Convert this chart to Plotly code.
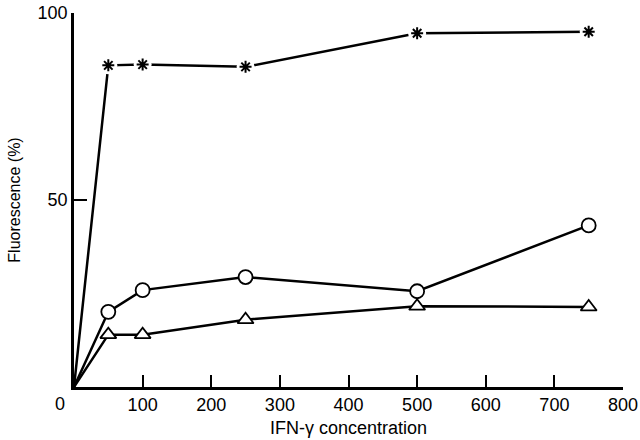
import plotly.graph_objects as go

conc = [0, 50, 100, 250, 500, 750]
star_vals = [0, 86.0, 86.2, 85.6, 94.6, 95.0]
circle_vals = [0, 20.1, 25.9, 29.4, 25.6, 43.2]
triangle_vals = [0, 14.0, 14.0, 18.0, 21.6, 21.4]

x_ticks = [100, 200, 300, 400, 500, 600, 700, 800]
y_ticks = [50, 100]

fig = go.Figure()

line_style = dict(color="black", width=2.5)

# star series: line with white gaps around markers
fig.add_trace(go.Scatter(x=conc, y=star_vals, mode="lines", line=line_style,
                         showlegend=False, hoverinfo="skip"))
fig.add_trace(go.Scatter(x=conc[1:], y=star_vals[1:], mode="markers",
                         marker=dict(symbol="circle", size=18, color="white",
                                     line=dict(width=0)),
                         showlegend=False, hoverinfo="skip"))
fig.add_trace(go.Scatter(x=conc[1:], y=star_vals[1:], mode="markers",
                         marker=dict(symbol="asterisk-open", size=10, color="black",
                                     line=dict(color="black", width=2)),
                         showlegend=False))

fig.add_trace(go.Scatter(x=conc, y=circle_vals, mode="lines", line=line_style,
                         showlegend=False, hoverinfo="skip"))
fig.add_trace(go.Scatter(x=conc[1:], y=circle_vals[1:], mode="markers",
                         marker=dict(symbol="circle", size=14, color="white",
                                     line=dict(color="black", width=1.8)),
                         showlegend=False))

fig.add_trace(go.Scatter(x=conc, y=triangle_vals, mode="lines", line=line_style,
                         showlegend=False, hoverinfo="skip"))
fig.add_trace(go.Scatter(x=conc[1:], y=triangle_vals[1:], mode="markers",
                         marker=dict(symbol="triangle-up", size=14, color="white",
                                     line=dict(color="black", width=1.8)),
                         showlegend=False))

font = dict(family="Liberation Sans, Arial, sans-serif", color="black")

fig.update_layout(
    width=640, height=440,
    margin=dict(l=74, r=17, t=13, b=53),
    plot_bgcolor="white", paper_bgcolor="white",
    font=dict(**font, size=16),
    xaxis=dict(range=[0, 800], tickvals=x_ticks, ticktext=[str(v) for v in x_ticks],
               showline=True, linecolor="black", linewidth=2.5,
               ticks="inside", ticklen=12, tickwidth=2, tickcolor="black",
               showgrid=False, zeroline=False, tickfont=dict(size=18),
               automargin=False,
               title=dict(text="IFN-γ concentration", font=dict(size=18), standoff=8)),
    yaxis=dict(range=[0, 100], tickvals=y_ticks, ticktext=[str(v) for v in y_ticks],
               showline=True, linecolor="black", linewidth=2.5,
               ticks="inside", ticklen=13, tickwidth=2, tickcolor="black",
               showgrid=False, zeroline=False, tickfont=dict(size=18),
               automargin=False,
               title=dict(text="Fluorescence (%)", font=dict(size=16), standoff=14)),
    annotations=[dict(x=0, y=0, xref="x", yref="y", text="0", showarrow=False,
                      xanchor="center", yanchor="top", xshift=-14, yshift=-5,
                      font=dict(size=18))],
)

fig.write_html("out.html", config={"displayModeBar": False},
               post_script="document.body.style.margin='0';document.body.style.overflow='hidden';")
